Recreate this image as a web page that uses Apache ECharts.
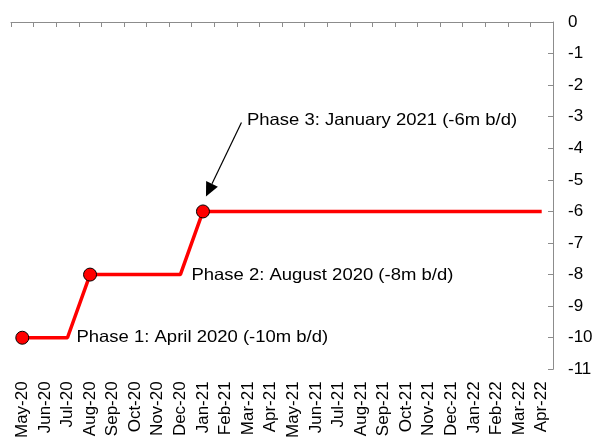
<!DOCTYPE html>
<html>
<head>
<meta charset="utf-8">
<script src="https://cdn.jsdelivr.net/npm/echarts@6/dist/echarts.min.js"></script>
<style>html,body{margin:0;padding:0;background:#fff;}#c{width:596px;height:441px;}</style>
</head>
<body>
<div id="c"></div>
<script>
var categories = ['May-20','Jun-20','Jul-20','Aug-20','Sep-20','Oct-20','Nov-20','Dec-20',
  'Jan-21','Feb-21','Mar-21','Apr-21','May-21','Jun-21','Jul-21','Aug-21','Sep-21','Oct-21','Nov-21','Dec-21',
  'Jan-22','Feb-22','Mar-22','Apr-22'];
var cutValues = [-10,-10,-10,-8,-8,-8,-8,-8,-6,-6,-6,-6,-6,-6,-6,-6,-6,-6,-6,-6,-6,-6,-6,-6];
var markedMonths = ['May-20','Aug-20','Jan-21'];
var phaseLabels = ['Phase 1: April 2020 (-10m b/d)','Phase 2: August 2020 (-8m b/d)','Phase 3: January 2021 (-6m b/d)'];

var FONT = 'Liberation Sans, Arial, sans-serif';
var chart = echarts.init(document.getElementById('c'));
var seriesData = cutValues.map(function(v, i){
  var marked = markedMonths.indexOf(categories[i]) >= 0;
  return {value: v, symbol: marked ? 'circle' : 'none'};
});
chart.setOption({
  animation: false,
  grid: {left: 11, right: 43, top: 22, bottom: 71, containLabel: false},
  xAxis: [{
    type: 'category', data: categories, position: 'bottom', boundaryGap: true,
    axisLine: {show: false, onZero: false}, axisTick: {show: false},
    axisLabel: {rotate: 90, margin: 12, fontSize: 17, color: '#000', fontFamily: FONT, interval: 0}
  }, {
    type: 'category', data: categories, position: 'top', boundaryGap: true,
    axisLine: {show: true, onZero: false, lineStyle: {color: '#8c8c8c', width: 1}},
    axisTick: {show: true, inside: true, length: 5, interval: 0, lineStyle: {color: '#8c8c8c'}},
    axisLabel: {show: false}
  }],
  yAxis: {
    type: 'value', position: 'right', min: -11, max: 0, interval: 1,
    splitLine: {show: false},
    axisLine: {show: true, lineStyle: {color: '#8c8c8c', width: 1}},
    axisTick: {show: true, inside: true, length: 5, lineStyle: {color: '#8c8c8c'}},
    axisLabel: {margin: 15, fontSize: 17, color: '#000', fontFamily: FONT}
  },
  series: [{
    type: 'line', xAxisIndex: 0, data: seriesData,
    symbolSize: 13,
    lineStyle: {color: '#ff0000', width: 3.5},
    itemStyle: {color: '#ff0000', borderColor: '#000', borderWidth: 1},
    z: 3
  }]
});

function px(cat, v){ return chart.convertToPixel({xAxisIndex: 0, yAxisIndex: 0}, [cat, v]); }
var p1 = px('Jul-20', -10), p2 = px('Dec-20', -8), p3 = px('Jan-21', -6);
var tip = [p3[0] + 3, p3[1] - 15], start = [p3[0] + 38.5, p3[1] - 89];
var dx = tip[0] - start[0], dy = tip[1] - start[1], L = Math.sqrt(dx*dx + dy*dy);
var ux = dx / L, uy = dy / L, hl = 14, hw = 6.5;
var bx = tip[0] - hl*ux, by = tip[1] - hl*uy;
function txt(x, y, s){
  return {type: 'text', x: x, y: y, scaleX: 1.12, style: {text: s, font: '16.5px ' + FONT, fill: '#000', textVerticalAlign: 'middle', verticalAlign: 'middle'}};
}
chart.setOption({
  graphic: [
    txt(p1[0] + 9, p1[1], phaseLabels[0]),
    txt(p2[0] + 11, p2[1] + 1, phaseLabels[1]),
    txt(p3[0] + 44, p3[1] - 91, phaseLabels[2]),
    {type: 'line', shape: {x1: start[0], y1: start[1], x2: bx, y2: by}, style: {stroke: '#000', lineWidth: 1.2}},
    {type: 'polygon', shape: {points: [tip, [bx - hw*uy, by + hw*ux], [bx + hw*uy, by - hw*ux]]}, style: {fill: '#000'}}
  ]
});
</script>
</body>
</html>
